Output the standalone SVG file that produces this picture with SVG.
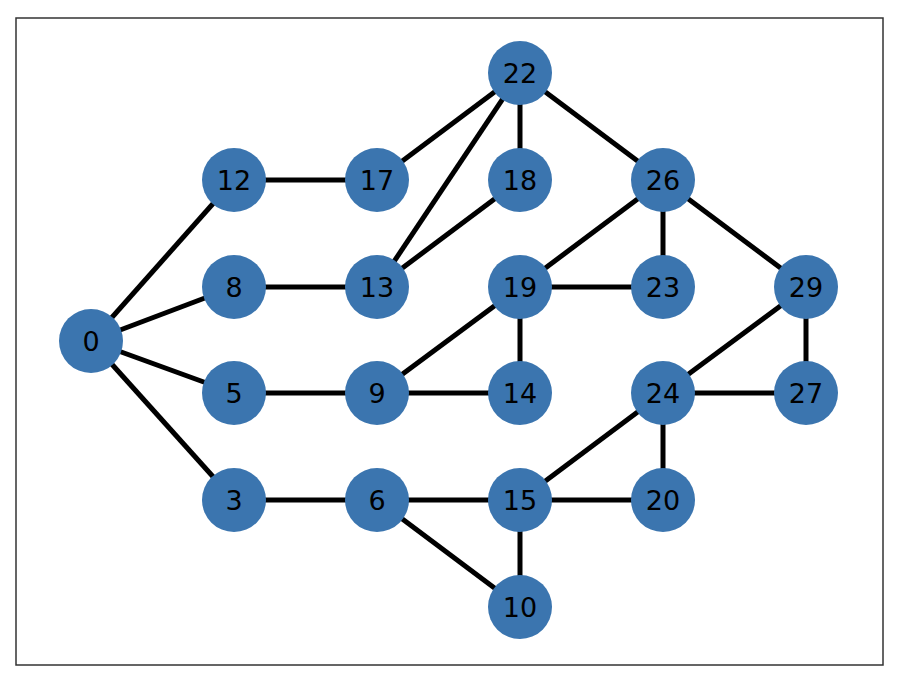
<svg xmlns="http://www.w3.org/2000/svg" width="904" height="686" viewBox="0 0 904 686">
<style>
.e{stroke:#000;stroke-width:5}
.n circle{fill:#3b75af}
.n text{font-family:"DejaVu Sans",sans-serif;font-size:27px;text-anchor:middle;dominant-baseline:central;fill:#000}
</style>
<rect x="0" y="0" width="904" height="686" fill="#fff"/>
<rect x="16" y="18" width="867" height="647" fill="none" stroke="#333" stroke-width="1.5"/>
<g id="edges" class="e">
<line x1="91" y1="341" x2="234" y2="180"/>
<line x1="91" y1="341" x2="234" y2="287"/>
<line x1="91" y1="341" x2="234" y2="393"/>
<line x1="91" y1="341" x2="234" y2="500"/>
<line x1="234" y1="180" x2="377" y2="180"/>
<line x1="377" y1="180" x2="520" y2="73"/>
<line x1="520" y1="73" x2="377" y2="287"/>
<line x1="520" y1="73" x2="520" y2="180"/>
<line x1="520" y1="73" x2="663" y2="180"/>
<line x1="520" y1="180" x2="377" y2="287"/>
<line x1="234" y1="287" x2="377" y2="287"/>
<line x1="234" y1="393" x2="377" y2="393"/>
<line x1="377" y1="393" x2="520" y2="287"/>
<line x1="377" y1="393" x2="520" y2="393"/>
<line x1="520" y1="287" x2="520" y2="393"/>
<line x1="520" y1="287" x2="663" y2="180"/>
<line x1="520" y1="287" x2="663" y2="287"/>
<line x1="663" y1="180" x2="663" y2="287"/>
<line x1="663" y1="180" x2="806" y2="287"/>
<line x1="806" y1="287" x2="663" y2="393"/>
<line x1="806" y1="287" x2="806" y2="393"/>
<line x1="663" y1="393" x2="806" y2="393"/>
<line x1="663" y1="393" x2="520" y2="500"/>
<line x1="663" y1="393" x2="663" y2="500"/>
<line x1="234" y1="500" x2="377" y2="500"/>
<line x1="377" y1="500" x2="520" y2="500"/>
<line x1="377" y1="500" x2="520" y2="607"/>
<line x1="520" y1="500" x2="663" y2="500"/>
<line x1="520" y1="500" x2="520" y2="607"/>
</g>
<g id="n0" class="n"><circle cx="91" cy="341" r="32"/><text x="91" y="341">0</text></g>
<g id="n12" class="n"><circle cx="234" cy="180" r="32"/><text x="234" y="180">12</text></g>
<g id="n8" class="n"><circle cx="234" cy="287" r="32"/><text x="234" y="287">8</text></g>
<g id="n5" class="n"><circle cx="234" cy="393" r="32"/><text x="234" y="393">5</text></g>
<g id="n3" class="n"><circle cx="234" cy="500" r="32"/><text x="234" y="500">3</text></g>
<g id="n17" class="n"><circle cx="377" cy="180" r="32"/><text x="377" y="180">17</text></g>
<g id="n13" class="n"><circle cx="377" cy="287" r="32"/><text x="377" y="287">13</text></g>
<g id="n9" class="n"><circle cx="377" cy="393" r="32"/><text x="377" y="393">9</text></g>
<g id="n6" class="n"><circle cx="377" cy="500" r="32"/><text x="377" y="500">6</text></g>
<g id="n22" class="n"><circle cx="520" cy="73" r="32"/><text x="520" y="73">22</text></g>
<g id="n18" class="n"><circle cx="520" cy="180" r="32"/><text x="520" y="180">18</text></g>
<g id="n19" class="n"><circle cx="520" cy="287" r="32"/><text x="520" y="287">19</text></g>
<g id="n14" class="n"><circle cx="520" cy="393" r="32"/><text x="520" y="393">14</text></g>
<g id="n15" class="n"><circle cx="520" cy="500" r="32"/><text x="520" y="500">15</text></g>
<g id="n10" class="n"><circle cx="520" cy="607" r="32"/><text x="520" y="607">10</text></g>
<g id="n26" class="n"><circle cx="663" cy="180" r="32"/><text x="663" y="180">26</text></g>
<g id="n23" class="n"><circle cx="663" cy="287" r="32"/><text x="663" y="287">23</text></g>
<g id="n24" class="n"><circle cx="663" cy="393" r="32"/><text x="663" y="393">24</text></g>
<g id="n20" class="n"><circle cx="663" cy="500" r="32"/><text x="663" y="500">20</text></g>
<g id="n29" class="n"><circle cx="806" cy="287" r="32"/><text x="806" y="287">29</text></g>
<g id="n27" class="n"><circle cx="806" cy="393" r="32"/><text x="806" y="393">27</text></g>
</svg>
